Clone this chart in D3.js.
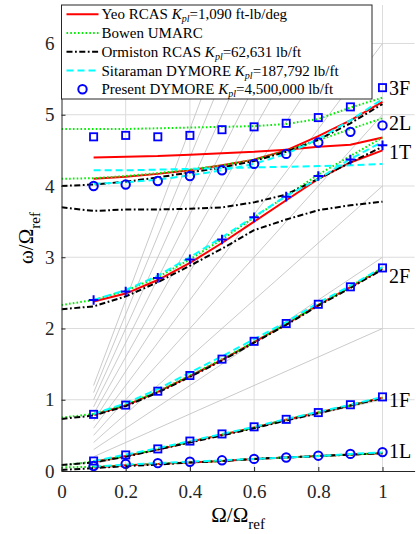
<!DOCTYPE html>
<meta charset="utf-8">
<style>
body { margin: 0; background: #fff; }
svg { font-family: "Liberation Serif", "DejaVu Serif", serif; }
.grid line { stroke: #dcdcdc; stroke-width: 1; }
.fan { stroke: #c4c4c4; stroke-width: 0.9; fill: none; }
</style>
<svg width="416" height="534"></svg>
<script src="https://cdn.jsdelivr.net/npm/d3@7"></script>
<script>
// rotor speed stations
var xAll = [0, 0.1, 0.2, 0.3, 0.4, 0.5, 0.6, 0.7, 0.8, 0.9, 1.0];
var xRot = [0.1, 0.2, 0.3, 0.4, 0.5, 0.6, 0.7, 0.8, 0.9, 1.0];

// Yeo RCAS (starts at 0.1)
var yeo1L = [0.05, 0.08, 0.10, 0.12, 0.14, 0.17, 0.19, 0.21, 0.23, 0.25];
var yeo1F = [0.13, 0.21, 0.30, 0.41, 0.51, 0.61, 0.72, 0.82, 0.92, 1.03];
var yeo2F = [0.79, 0.92, 1.11, 1.33, 1.56, 1.81, 2.06, 2.33, 2.58, 2.84];
var yeo1T = [2.38, 2.49, 2.68, 2.92, 3.20, 3.50, 3.80, 4.10, 4.33, 4.50];
var yeoA  = [4.40, 4.41, 4.42, 4.44, 4.46, 4.48, 4.51, 4.55, 4.58, 4.68];
var yeoB  = [4.10, 4.13, 4.17, 4.22, 4.29, 4.37, 4.50, 4.70, 4.92, 5.18];

// Bowen UMARC (starts at 0)
var bow1L = [0.05, 0.06, 0.08, 0.10, 0.12, 0.14, 0.17, 0.19, 0.21, 0.23, 0.25];
var bow1F = [0.08, 0.13, 0.21, 0.31, 0.41, 0.51, 0.61, 0.72, 0.82, 0.92, 1.03];
var bow2F = [0.75, 0.80, 0.93, 1.12, 1.34, 1.57, 1.81, 2.07, 2.33, 2.59, 2.85];
var bow1T = [2.33, 2.40, 2.53, 2.72, 2.97, 3.25, 3.56, 3.86, 4.16, 4.42, 4.68];
var bow2L = [4.10, 4.11, 4.14, 4.18, 4.23, 4.29, 4.37, 4.49, 4.64, 4.80, 4.95];
var bow3F = [4.80, 4.80, 4.80, 4.81, 4.82, 4.83, 4.84, 4.87, 4.94, 5.10, 5.24];

// Ormiston RCAS (starts at 0)
var orm1L = [0.015, 0.04, 0.07, 0.09, 0.12, 0.14, 0.17, 0.19, 0.21, 0.23, 0.25];
var orm1F = [0.085, 0.12, 0.20, 0.30, 0.40, 0.50, 0.60, 0.71, 0.81, 0.92, 1.02];
var orm2F = [0.73, 0.78, 0.91, 1.10, 1.32, 1.55, 1.80, 2.05, 2.32, 2.57, 2.83];
var orm1T = [2.27, 2.31, 2.45, 2.65, 2.88, 3.12, 3.38, 3.53, 3.66, 3.73, 3.78];
var ormB  = [3.70, 3.65, 3.67, 3.67, 3.68, 3.70, 3.77, 3.88, 4.10, 4.33, 4.55];
var ormC  = [4.00, 4.02, 4.06, 4.12, 4.19, 4.26, 4.35, 4.48, 4.65, 4.88, 5.15];

// Sitaraman DYMORE (starts at 0.1)
var sit1L = [0.06, 0.09, 0.11, 0.13, 0.15, 0.17, 0.19, 0.21, 0.24, 0.26];
var sit1F = [0.14, 0.23, 0.32, 0.42, 0.52, 0.62, 0.73, 0.83, 0.93, 1.04];
var sit2F = [0.80, 0.95, 1.15, 1.38, 1.61, 1.85, 2.09, 2.36, 2.60, 2.86];
var sit1T = [2.40, 2.54, 2.74, 3.00, 3.28, 3.57, 3.86, 4.10, 4.38, 4.62];
var sitA  = [4.03, 4.05, 4.09, 4.15, 4.22, 4.31, 4.45, 4.66, 4.92, 5.22];
var sitB  = [4.22, 4.22, 4.23, 4.24, 4.25, 4.26, 4.27, 4.28, 4.29, 4.31];

// Present DYMORE (markers)
var pre1L = [0.07, 0.10, 0.11, 0.13, 0.15, 0.17, 0.19, 0.215, 0.24, 0.265];
var pre1F = [0.14, 0.225, 0.31, 0.42, 0.52, 0.62, 0.725, 0.82, 0.93, 1.04];
var pre2F = [0.795, 0.925, 1.12, 1.34, 1.57, 1.82, 2.07, 2.34, 2.585, 2.85];
var pre1T = [2.40, 2.52, 2.71, 2.97, 3.25, 3.56, 3.85, 4.14, 4.37, 4.57];
var pre2L = [4.00, 4.02, 4.07, 4.14, 4.22, 4.31, 4.45, 4.61, 4.76, 4.85];
var pre3F = [4.69, 4.71, 4.69, 4.71, 4.79, 4.83, 4.88, 4.96, 5.11, 5.38];

// per-rev fan lines
var fanOrders = [1, 2, 3, 4, 5, 6, 7, 8, 9, 10, 11, 12];

var modeNames = ["3F", "2L", "1T", "2F", "1F", "1L"];
var modeLabelY = [5.38, 4.89, 4.48, 2.74, 0.99, 0.28];

var xTicks = [0, 0.2, 0.4, 0.6, 0.8, 1];
var yTicks = [0, 1, 2, 3, 4, 5, 6];

var svg = d3.select("svg"),
    margin = {top: 5, right: 1.4, bottom: 63, left: 61.5},
    width = 416 - margin.left - margin.right,
    height = 534 - margin.top - margin.bottom;

var x = d3.scaleLinear().domain([0, 1.1]).range([0, width]),
    y = d3.scaleLinear().domain([0, 6.54]).range([height, 0]);

var g = svg.append("g")
    .attr("transform", "translate(" + margin.left + "," + margin.top + ")");

g.append("clipPath").attr("id", "clip")
  .append("rect").attr("width", width).attr("height", height);

// grid
g.append("g").attr("class", "grid")
  .selectAll("line").data(xTicks.slice(1)).enter().append("line")
    .attr("x1", function(d) { return x(d); }).attr("x2", function(d) { return x(d); })
    .attr("y1", 0).attr("y2", height);
g.append("g").attr("class", "grid")
  .selectAll("line").data(yTicks.slice(1)).enter().append("line")
    .attr("x1", 0).attr("x2", width)
    .attr("y1", function(d) { return y(d); }).attr("y2", function(d) { return y(d); });

// fan lines
g.append("g").attr("clip-path", "url(#clip)")
  .selectAll("line").data(fanOrders).enter().append("line")
    .attr("class", "fan")
    .attr("x1", x(0.1)).attr("y1", function(n) { return y(0.1 * n); })
    .attr("x2", x(1)).attr("y2", function(n) { return y(n); });

var line = d3.line()
    .x(function(d) { return x(d[0]); })
    .y(function(d) { return y(d[1]); });

function zipXY(xs, ys) { return ys.map(function(v, i) { return [xs[i], v]; }); }

var styles = {
  yeo: {stroke: "#ff0000", dash: null},
  bow: {stroke: "#00ee00", dash: "1.6,2.2"},
  orm: {stroke: "#000000", dash: "6,2.5,1.8,2.5"},
  sit: {stroke: "#00ffff", dash: "7,4"}
};

var groups = [
  ["yeo", xRot, [yeo1L, yeo1F, yeo2F, yeo1T, yeoA, yeoB]],
  ["bow", xAll, [bow1L, bow1F, bow2F, bow1T, bow2L, bow3F]],
  ["orm", xAll, [orm1L, orm1F, orm2F, orm1T, ormB, ormC]],
  ["sit", xRot, [sit1L, sit1F, sit2F, sit1T, sitA, sitB]]
];

var plot = g.append("g").attr("clip-path", "url(#clip)");
groups.forEach(function(grp) {
  var st = styles[grp[0]];
  grp[2].forEach(function(ys) {
    plot.append("path")
      .datum(zipXY(grp[1], ys))
      .attr("d", line)
      .attr("fill", "none")
      .attr("stroke", st.stroke)
      .attr("stroke-width", 2)
      .attr("stroke-dasharray", st.dash);
  });
});

// present markers
var blue = "#0000ff";
[pre1L, pre2L].forEach(function(ys) {
  plot.append("g").selectAll("circle").data(zipXY(xRot, ys)).enter().append("circle")
    .attr("cx", function(d) { return x(d[0]); })
    .attr("cy", function(d) { return y(d[1]); })
    .attr("r", 4.2)
    .attr("fill", "none").attr("stroke", blue).attr("stroke-width", 2);
});
[pre1F, pre2F, pre3F].forEach(function(ys) {
  plot.append("g").selectAll("rect").data(zipXY(xRot, ys)).enter().append("rect")
    .attr("x", function(d) { return x(d[0]) - 3.6; })
    .attr("y", function(d) { return y(d[1]) - 3.6; })
    .attr("width", 7.2).attr("height", 7.2)
    .attr("fill", "none").attr("stroke", blue).attr("stroke-width", 1.8);
});
plot.append("g").selectAll("path").data(zipXY(xRot, pre1T)).enter().append("path")
  .attr("d", function(d) {
    var cx = x(d[0]), cy = y(d[1]), s = 4.8;
    return "M" + (cx - s) + "," + cy + "H" + (cx + s) + "M" + cx + "," + (cy - s) + "V" + (cy + s);
  })
  .attr("stroke", blue).attr("stroke-width", 2);

// axes
var xAxis = g.append("g")
    .attr("transform", "translate(0," + height + ")")
    .call(d3.axisBottom(x).tickValues(xTicks).tickSizeInner(-4).tickSizeOuter(0)
      .tickFormat(function(d) { return d === 0 || d === 1 ? d3.format("d")(d) : d3.format(".1f")(d); }));
xAxis.selectAll("text").attr("dy", "1.25em");
var yAxis = g.append("g")
    .call(d3.axisLeft(y).tickValues(yTicks).tickSizeInner(-4).tickSizeOuter(0)
      .tickFormat(d3.format("d")));
yAxis.selectAll("text").attr("x", -7);
[xAxis, yAxis].forEach(function(ax) {
  ax.attr("font-family", null).attr("font-size", null);
  ax.selectAll("text").attr("fill", "#262626")
    .style("font-size", "19px").style("font-family", "'Liberation Serif', serif");
  ax.select(".domain").attr("stroke", "#262626");
  ax.selectAll(".tick line").attr("stroke", "#262626");
});

// mode labels
g.append("g").selectAll("text").data(modeNames).enter().append("text")
  .attr("x", x(1.02))
  .attr("y", function(d, i) { return y(modeLabelY[i]); })
  .attr("dy", "0.35em")
  .style("font-size", "20px")
  .text(function(d) { return d; });

// axis labels
var xl = svg.append("text")
    .attr("x", margin.left + width / 2).attr("y", 522)
    .attr("text-anchor", "middle").style("font-size", "21px");
xl.append("tspan").text("\u03A9/\u03A9");
xl.append("tspan").attr("dy", 7).style("font-size", "15px").text("ref");

var yl = svg.append("text")
    .attr("transform", "translate(33," + (margin.top + height / 2) + ") rotate(-90)")
    .attr("text-anchor", "middle").style("font-size", "21px");
yl.append("tspan").text("\u03C9/\u03A9");
yl.append("tspan").attr("dy", 7).style("font-size", "15px").text("ref");

// legend
var legendNames = [
  ["Yeo RCAS ", "=1,090 ft-lb/deg"],
  ["Bowen UMARC", null],
  ["Ormiston RCAS ", "=62,631 lb/ft"],
  ["Sitaraman DYMORE ", "=187,792 lb/ft"],
  ["Present DYMORE ", "=4,500,000 lb/ft"]
];
var legendKeys = ["yeo", "bow", "orm", "sit", "pre"];

var lg = svg.append("g");
lg.append("rect")
  .attr("x", 61.5).attr("y", 5).attr("width", 310.5).attr("height", 94)
  .attr("fill", "#fff").attr("stroke", "#262626").attr("stroke-width", 1);

legendNames.forEach(function(nm, i) {
  var cy = 14.3 + i * 18.75, key = legendKeys[i];
  if (key === "pre") {
    lg.append("circle").attr("cx", 82.5).attr("cy", cy).attr("r", 4.2)
      .attr("fill", "none").attr("stroke", blue).attr("stroke-width", 2);
  } else {
    lg.append("line").attr("x1", 66.5).attr("x2", 98.5).attr("y1", cy).attr("y2", cy)
      .attr("stroke", styles[key].stroke).attr("stroke-width", 2)
      .attr("stroke-dasharray", styles[key].dash);
  }
  var t = lg.append("text").attr("x", 101.5).attr("y", cy + 5).style("font-size", "15px");
  t.append("tspan").text(nm[0]);
  if (nm[1]) {
    t.append("tspan").style("font-style", "italic").text("K");
    t.append("tspan").attr("dy", 3).style("font-style", "italic").style("font-size", "10px").text("pl");
    t.append("tspan").attr("dy", -3).text(nm[1]);
  }
});
</script>
